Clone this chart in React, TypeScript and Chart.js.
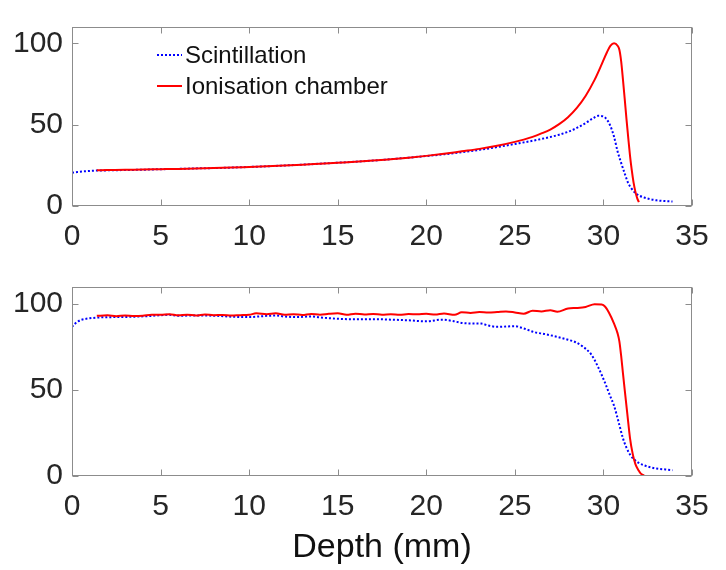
import React, { useEffect, useRef } from "react";
import { Chart, registerables } from "chart.js";

Chart.register(...registerables);

// ---------- data ----------
const xTicks = [0, 5, 10, 15, 20, 25, 30, 35];
const yTicks = [0, 50, 100];
const seriesLabels = ["Scintillation", "Ionisation chamber"];
const xAxisTitle = "Depth (mm)";

// Top panel (Bragg peak)
const topScintX = [0, 0.3, 0.7, 1.2, 2, 3, 4, 5, 6, 7, 8, 9, 10, 11, 12, 13, 14, 15, 16, 17, 18, 19, 20, 21, 22, 23, 24, 25, 26, 26.5, 27, 27.5, 28, 28.5, 29, 29.4, 29.7, 30.0, 30.2, 30.4, 30.6, 30.8, 31.0, 31.2, 31.4, 31.6, 31.8, 32.0, 32.3, 32.6, 33.0, 33.5, 33.9];
const topScintY = [20.5, 20.9, 21.3, 21.7, 21.9, 22.1, 22.3, 22.6, 22.8, 23.1, 23.3, 23.6, 24.0, 24.4, 24.9, 25.4, 26.0, 26.6, 27.2, 27.9, 28.8, 29.7, 30.7, 31.8, 33.0, 34.5, 36.2, 38.1, 40.1, 41.2, 42.4, 43.8, 45.6, 48.0, 51.0, 53.8, 55.4, 55.0, 53.0, 49.0, 42.5, 33.5, 26.5, 20.0, 14.0, 10.5, 8.0, 6.5, 5.2, 4.3, 3.5, 3.0, 2.8];

const topIonX = [1.4, 2, 3, 4, 5, 6, 7, 8, 9, 10, 11, 12, 13, 14, 15, 16, 17, 18, 19, 20, 21, 22, 23, 24, 25, 25.5, 26, 26.5, 27, 27.5, 28, 28.5, 29, 29.5, 29.9, 30.2, 30.4, 30.6, 30.8, 30.9, 31.0, 31.1, 31.2, 31.3, 31.4, 31.5, 31.6, 31.7, 31.8, 31.9, 32.0];
const topIonY = [22.0, 22.1, 22.3, 22.4, 22.6, 22.8, 23.1, 23.3, 23.6, 24.0, 24.4, 24.9, 25.4, 26.0, 26.6, 27.2, 27.9, 28.8, 29.7, 30.8, 32.1, 33.6, 35.1, 37.0, 39.4, 40.8, 42.5, 44.6, 47.0, 50.3, 54.6, 60.3, 67.8, 77.5, 87.0, 94.5, 98.5, 100, 98.5, 96.0, 89.0, 78.0, 66.0, 53.5, 42.0, 31.0, 22.0, 14.5, 9.0, 5.0, 2.4];

// Bottom panel (spread-out peak)
const botScintX = [0, 0.15, 0.3, 0.5, 0.8, 1.2, 1.6, 2.5, 3.5, 4.5, 5, 5.5, 6, 7, 8, 9, 10, 10.5, 11, 11.5, 12, 12.8, 13.5, 14, 15, 16, 17, 18, 19, 20, 20.9, 21.5, 22, 22.5, 23.1, 23.5, 24, 25, 25.5, 26.1, 26.7, 27.3, 28, 28.4, 28.8, 29.3, 29.7, 30.1, 30.4, 30.6, 30.9, 31.1, 31.3, 31.5, 31.7, 32.0, 32.3, 32.6, 33.0, 33.5, 33.9];
const botScintY = [86.8, 88.5, 89.7, 90.8, 91.5, 92.0, 92.3, 92.5, 92.7, 93.2, 93.6, 93.8, 93.3, 93.4, 93.3, 92.7, 92.5, 92.8, 93.2, 93.4, 92.8, 92.5, 92.9, 92.3, 91.5, 91.2, 91.3, 91.0, 90.6, 90.0, 91.0, 90.2, 89.1, 88.8, 88.7, 87.6, 86.8, 87.2, 85.9, 83.7, 82.6, 81.2, 79.3, 78.0, 75.6, 70.9, 63.4, 54.0, 46.0, 40.9, 29.7, 22.0, 16.5, 12.5, 10.0, 7.6, 6.2, 5.2, 4.3, 3.8, 3.4];

const botIonX = [1.4, 2, 2.5, 3, 3.5, 4, 4.5, 5, 5.5, 6, 6.5, 7, 7.5, 8, 8.5, 9, 9.5, 10, 10.4, 11, 11.5, 12, 12.5, 13, 13.5, 14, 14.5, 15, 15.5, 16, 16.5, 17, 17.5, 18, 18.5, 19, 19.5, 20, 20.5, 21, 21.6, 22, 22.5, 23, 23.5, 24, 24.5, 25, 25.5, 26, 26.5, 27, 27.4, 28, 28.5, 29, 29.5, 29.9, 30.1, 30.3, 30.6, 30.8, 30.9, 31.0, 31.1, 31.2, 31.35, 31.5, 31.65, 31.8, 32.0, 32.1, 32.3];
const botIonY = [93.2, 93.5, 93.0, 93.4, 93.1, 93.3, 93.9, 93.8, 94.1, 93.5, 93.9, 93.4, 94.0, 93.6, 93.7, 93.4, 93.6, 93.8, 94.7, 94.2, 94.7, 93.8, 94.2, 93.7, 94.3, 93.9, 94.4, 94.7, 93.8, 94.5, 94.0, 94.3, 93.9, 94.2, 93.8, 94.3, 94.1, 94.4, 94.0, 94.6, 93.8, 95.3, 94.9, 95.4, 95.1, 95.4, 95.8, 95.2, 94.4, 96.2, 95.8, 96.5, 95.6, 97.5, 97.8, 98.4, 100, 99.8, 98.5, 95.3, 88.7, 83.0, 78.4, 70.0, 60.0, 50.3, 36.0, 22.1, 13.0, 7.1, 3.0, 1.5, 0.2];

// ---------- helpers ----------
const FONT = "'Liberation Sans', Arial, Helvetica, sans-serif";
const TEXT = "#262626";
const BOX = "#8c8c8c";

const toPoints = (xs: number[], ys: number[]) => xs.map((x, i) => ({ x, y: ys[i] }));

const boxPlugin = {
  id: "matlabBox",
  afterDatasetsDraw(chart: any) {
    const { ctx, chartArea: a, scales } = chart;
    ctx.save();
    ctx.strokeStyle = BOX;
    ctx.lineWidth = 1;
    const L = Math.round(a.left) + 0.5, R = Math.round(a.right) - 0.5;
    const T = Math.round(a.top) + 0.5, B = Math.round(a.bottom) - 0.5;
    ctx.strokeRect(L, T, R - L, B - T);
    const tl = 6;
    ctx.beginPath();
    xTicks.forEach((v) => {
      const px = Math.round(scales.x.getPixelForValue(v)) + 0.5;
      ctx.moveTo(px, B); ctx.lineTo(px, B - tl);
      ctx.moveTo(px, T); ctx.lineTo(px, T + tl);
    });
    yTicks.forEach((v) => {
      const py = Math.round(scales.y.getPixelForValue(v)) + 0.5;
      ctx.moveTo(L, py); ctx.lineTo(L + tl, py);
      ctx.moveTo(R, py); ctx.lineTo(R - tl, py);
    });
    ctx.stroke();
    ctx.restore();
  },
};

const legendPlugin = {
  id: "matlabLegend",
  afterDraw(chart: any) {
    const { ctx, chartArea: a } = chart;
    ctx.save();
    chart.data.datasets.forEach((ds: any, i: number) => {
      const y = a.top + 28 + i * 31;
      const x0 = a.left + 85, x1 = a.left + 110;
      ctx.beginPath();
      ctx.strokeStyle = ds.borderColor;
      ctx.lineWidth = ds.borderWidth;
      ctx.setLineDash(ds.borderDash || []);
      ctx.moveTo(x0, y); ctx.lineTo(x1, y);
      ctx.stroke();
      ctx.setLineDash([]);
      ctx.fillStyle = "#111";
      ctx.font = `24px ${FONT}`;
      ctx.textBaseline = "middle";
      ctx.textAlign = "left";
      ctx.fillText(ds.label, x1 + 3, y + 1);
    });
    ctx.restore();
  },
};

function makeConfig(scint: any[], ion: any[], opts: { padTop: number; xHeight: number; title: boolean; legend: boolean }) {
  return {
    type: "line" as const,
    data: {
      datasets: [
        { label: seriesLabels[0], data: scint, borderColor: "#0000ff", borderWidth: 2, borderDash: [2, 2], pointRadius: 0, cubicInterpolationMode: "monotone", fill: false, order: 1 },
        { label: seriesLabels[1], data: ion, borderColor: "#ff0000", borderWidth: 2, pointRadius: 0, cubicInterpolationMode: "monotone", fill: false, order: 0 },
      ],
    },
    options: {
      responsive: false,
      animation: false as const,
      layout: { padding: { left: 0, right: 34, top: opts.padTop, bottom: 0 } },
      plugins: { legend: { display: false }, tooltip: { enabled: false } },
      scales: {
        x: {
          type: "linear" as const,
          min: 0,
          max: 35,
          grid: { display: false, drawTicks: false },
          border: { display: false },
          afterBuildTicks: (s: any) => { s.ticks = xTicks.map((v) => ({ value: v })); },
          afterFit: (s: any) => { s.height = opts.xHeight; },
          ticks: { font: { family: FONT, size: 30 }, color: TEXT, padding: 13, maxRotation: 0, autoSkip: false },
          title: {
            display: opts.title,
            text: xAxisTitle,
            font: { family: FONT, size: 34 },
            color: "#111",
            padding: { top: 2, bottom: 2 },
          },
        },
        y: {
          type: "linear" as const,
          min: 0,
          max: 110,
          grid: { display: false, drawTicks: false },
          border: { display: false },
          afterBuildTicks: (s: any) => { s.ticks = yTicks.map((v) => ({ value: v })); },
          afterFit: (s: any) => { s.width = 72; },
          ticks: { font: { family: FONT, size: 30 }, color: TEXT, padding: 9 },
        },
      },
    },
    plugins: opts.legend ? [boxPlugin, legendPlugin] : [boxPlugin],
  };
}

function Panel(props: { top: number; height: number; scint: any[]; ion: any[]; padTop: number; xHeight: number; title: boolean; legend: boolean }) {
  const ref = useRef<HTMLCanvasElement>(null);
  useEffect(() => {
    if (!ref.current) return;
    const chart = new Chart(ref.current, makeConfig(props.scint, props.ion, props) as any);
    return () => chart.destroy();
  }, []);
  return (
    <canvas
      ref={ref}
      width={726}
      height={props.height}
      style={{ position: "absolute", left: 0, top: props.top, width: 726, height: props.height }}
    />
  );
}

export default function App() {
  return (
    <div style={{ position: "fixed", left: 0, top: 0, width: 726, height: 570, background: "#fff", overflow: "hidden" }}>
      <Panel top={0} height={260} scint={toPoints(topScintX, topScintY)} ion={toPoints(topIonX, topIonY)} padTop={9} xHeight={54} title={false} legend={true} />
      <Panel top={260} height={310} scint={toPoints(botScintX, botScintY)} ion={toPoints(botIonX, botIonY)} padTop={20} xHeight={94} title={true} legend={false} />
    </div>
  );
}
